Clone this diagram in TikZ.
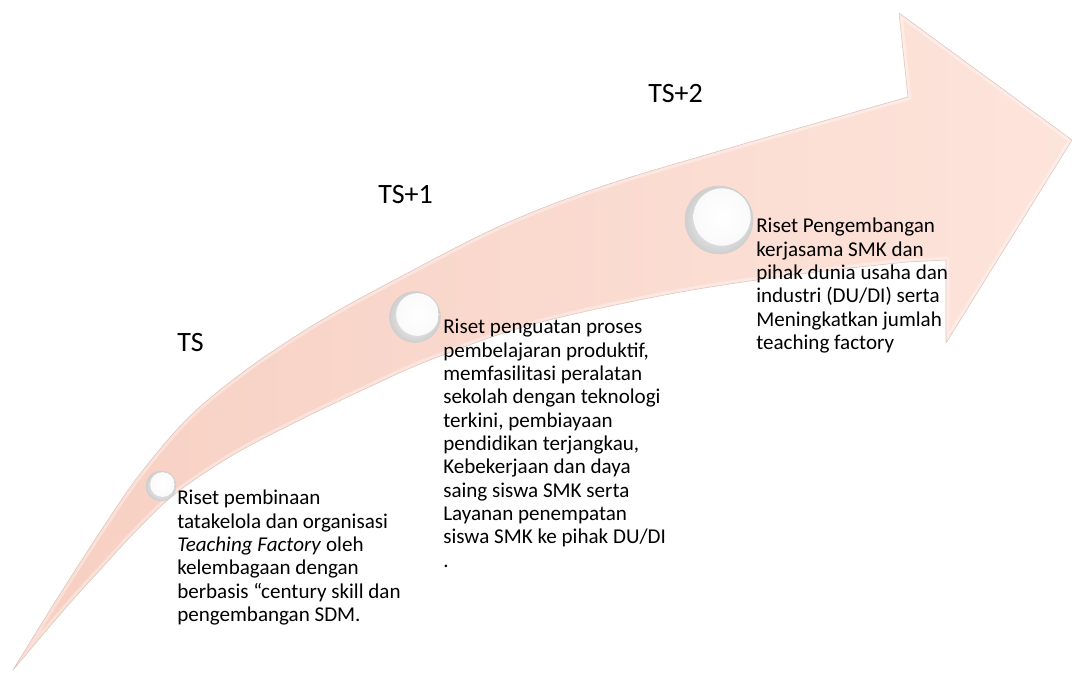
\documentclass[tikz,border=0pt]{standalone}
\usepackage{fontspec}
\setmainfont{Carlito}
\usetikzlibrary{shadings}
\definecolor{arrowL}{HTML}{F7CFC2}
\definecolor{arrowR}{HTML}{FDE4DB}
\definecolor{arrowEdge}{HTML}{DFC3B9}
\tikzset{
  sphere/.style={circle, inner sep=0pt, inner color=white, outer color=white!62!gray, draw=white!62!gray, line width=0.3pt},
  spherehl/.style={circle, inner sep=0pt, inner color=white, outer color=white!96!gray},
  yearlbl/.style={anchor=base west, inner sep=0pt, font=\fontsize{21}{25}\selectfont},
  bodytxt/.style={anchor=base west, inner sep=0pt, font=\fontsize{15.8}{17.5}\selectfont}
}
\newcommand{\bodybox}[1]{\parbox[t]{300pt}{\raggedright #1}}
\newcommand{\arrowpath}{plot[smooth, tension=0.55] coordinates {(13,670) (55,602) (100,532) (140,474) (190,416) (250,367) (320,321) (400,277) (500,226) (600,187) (733,147) (908,97)}
  -- (899,13) -- (1072,140) -- (946,343) -- (946,260)
  -- plot[smooth, tension=0.55] coordinates {(907,262) (800,274) (670,294) (530,325) (430,360) (367,388) (300,420) (233,455) (175,494) (135,532) (100,570) (70,603) (40,638) (13,670)}
  -- cycle}
\begin{document}
\begin{tikzpicture}[x=0.75pt,y=-0.75pt]
\useasboundingbox (0,0) rectangle (1072,673);
% curved arrow
\path[left color=arrowL, right color=arrowR, line join=round] \arrowpath;
\begin{scope}
  \clip \arrowpath;
  \draw[white, opacity=0.35, line width=5pt, line join=round] \arrowpath;
\end{scope}
\draw[arrowEdge, line width=0.4pt, line join=round] \arrowpath;
% spheres
\node[sphere, minimum size=22.5pt] (c1) at (161,486) {};
\node[spherehl, minimum size=18.5pt] (h1) at (162.5,484.5) {};
\node[sphere, minimum size=38.25pt] (c2) at (415,317) {};
\node[spherehl, minimum size=32pt] (h2) at (417.5,314.5) {};
\node[sphere, minimum size=51pt] (c3) at (719,220) {};
\node[spherehl, minimum size=43pt] (h3) at (722,217) {};
% year labels
\node[yearlbl] (ts0) at (177,352) {TS};
\node[yearlbl] (ts1) at (378,204) {TS+1};
\node[yearlbl] (ts2) at (648,103) {TS+2};
% texts
\node[bodytxt] (t1) at (177,505) {\bodybox{Riset pembinaan\\
tatakelola dan organisasi\\
\textit{Teaching Factory} oleh\\
kelembagaan dengan\\
berbasis “century skill dan\\
pengembangan SDM.}};
\node[bodytxt] (t2) at (443,334) {\bodybox{Riset penguatan proses\\
pembelajaran produktif,\\
memfasilitasi peralatan\\
sekolah dengan teknologi\\
terkini, pembiayaan\\
pendidikan terjangkau,\\
Kebekerjaan dan daya\\
saing siswa SMK serta\\
Layanan penempatan\\
siswa SMK ke pihak DU/DI\\
.}};
\node[bodytxt] (t3) at (756,233) {\bodybox{Riset Pengembangan\\
kerjasama SMK dan\\
pihak dunia usaha dan\\
industri (DU/DI) serta\\
Meningkatkan jumlah\\
teaching factory}};
\end{tikzpicture}
\end{document}
